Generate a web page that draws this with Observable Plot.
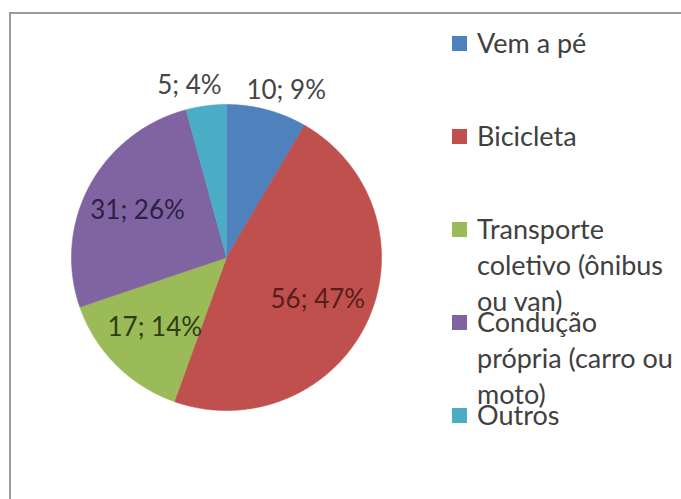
<!DOCTYPE html>
<html>
<head>
<meta charset="utf-8">
<script src="https://cdn.jsdelivr.net/npm/d3@7"></script>
<script src="https://cdn.jsdelivr.net/npm/@observablehq/plot@0.6"></script>
<style>
  html, body { margin: 0; padding: 0; background: #fff; overflow: hidden; }
  #wrap { position: relative; width: 681px; height: 499px; }
  #frame { position: absolute; left: 9px; top: 12px; width: 700px; height: 520px;
           border-left: 2px solid #9a9a9a; border-top: 2px solid #9a9a9a; }
  #chart { position: absolute; left: 0; top: 0; }
  #legend { position: absolute; left: 452px; top: 0; font-family: Lato, sans-serif;
            font-size: 27px; color: #404040; }
  .item { position: absolute; left: 0; width: 205px; padding-left: 25px; line-height: 36px; }
  .sw { position: absolute; left: 0; top: 11px; width: 15px; height: 15px; }
</style>
</head>
<body>
<div id="wrap">
  <div id="frame"></div>
  <div id="chart"></div>
  <div id="legend"></div>
</div>
<script>
const categories = ["Vem a pé", "Bicicleta", "Transporte coletivo (ônibus ou van)", "Condução própria (carro ou moto)", "Outros"];
const values = [10, 56, 17, 31, 5];
const percentLabels = ["9%", "47%", "14%", "26%", "4%"];
const colors = ["#4F81BD", "#C0504D", "#9BBB59", "#8064A2", "#4BACC6"];
const labelColors = ["#454545", "#5a1c1b", "#2e3d14", "#2b2145", "#454545"];

const rows = categories.map((c, i) => ({cat: c, value: values[i], pct: percentLabels[i], lc: labelColors[i]}));
const arcs = d3.pie().sort(null).value(d => d.value)(rows);
const total = d3.sum(values);

const pts = arcs.flatMap(p => {
  const cat = p.data.cat;
  const n = Math.max(2, Math.ceil((p.endAngle - p.startAngle) / (Math.PI / 360)));
  const arr = [{cat, x: 0, y: 0}];
  for (let i = 0; i <= n; i++) {
    const a = p.startAngle + (p.endAngle - p.startAngle) * i / n;
    arr.push({cat, x: Math.sin(a), y: Math.cos(a)});
  }
  arr.push({cat, x: 0, y: 0});
  return arr;
});

const labels = arcs.map(p => {
  const mid = (p.startAngle + p.endAngle) / 2;
  const outside = p.data.value / total < 0.1;
  const r = outside ? 1.13 : 0.65;
  return {x: Math.sin(mid) * r, y: Math.cos(mid) * r, text: `${p.data.value}; ${p.data.pct}`,
          color: p.data.lc, dx: outside ? Math.sign(Math.sin(mid)) * 14 : 0};
});

const chart = Plot.plot({
  width: 681,
  height: 499,
  margin: 0,
  style: {background: "transparent", fontFamily: "Lato, sans-serif"},
  x: {domain: [-1, 1], range: [71, 381], axis: null},
  y: {domain: [-1, 1], range: [410, 104], axis: null},
  color: {domain: categories, range: colors},
  marks: [
    Plot.line(pts, {x: "x", y: "y", z: "cat", fill: "cat", stroke: "cat", strokeWidth: 0.6, curve: "linear"}),
    ...labels.map(l => Plot.text([l], {x: "x", y: "y", text: "text", fill: l.color, dx: l.dx, fontSize: 26, fontFamily: "Lato, sans-serif"}))
  ]
});
document.getElementById("chart").appendChild(chart);

const legend = document.getElementById("legend");
categories.forEach((c, i) => {
  const item = document.createElement("div");
  item.className = "item";
  item.style.top = (25 + i * 93) + "px";
  const sw = document.createElement("div");
  sw.className = "sw";
  sw.style.background = colors[i];
  item.appendChild(sw);
  item.appendChild(document.createTextNode(c));
  legend.appendChild(item);
});
</script>
</body>
</html>
